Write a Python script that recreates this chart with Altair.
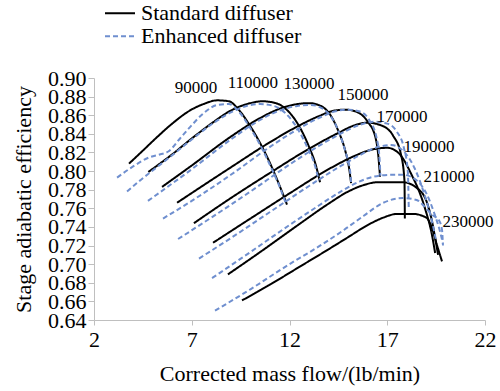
import altair as alt
import pandas as pd

# ---- data (mass flow lb/min, stage adiabatic efficiency) ----
SPEEDS = [90000, 110000, 130000, 150000, 170000, 190000, 210000, 230000]

std_90000 = [(3.79,0.808),(4.5,0.822),(5.2,0.836),(6.0,0.851),(6.9,0.865),(7.6,0.872),(8.3,0.876),(8.9,0.875),(9.4,0.866),(10.0,0.848),(10.6,0.826),(11.1,0.804),(11.5,0.784),(11.87,0.764)]
enh_90000 = [(3.18,0.793),(4.0,0.805),(4.86,0.815),(5.4,0.818),(5.8,0.821),(6.4,0.835),(6.9,0.847),(7.6,0.862),(8.3,0.871),(8.9,0.872),(9.4,0.864),(10.0,0.846),(10.6,0.824),(11.1,0.802),(11.5,0.783),(11.8,0.766)]

std_110000 = [(4.78,0.799),(6.0,0.818),(7.0,0.835),(8.0,0.851),(9.0,0.865),(10.0,0.873),(10.6,0.875),(11.3,0.873),(11.9,0.865),(12.5,0.848),(13.0,0.826),(13.35,0.806),(13.56,0.788)]
enh_110000 = [(3.69,0.778),(4.3,0.789),(4.9,0.799),(6.0,0.817),(7.0,0.834),(8.0,0.850),(9.0,0.863),(9.8,0.870),(10.5,0.872),(11.2,0.870),(11.8,0.862),(12.4,0.846),(12.9,0.826),(13.3,0.806),(13.5,0.790)]

std_130000 = [(5.48,0.783),(7.0,0.806),(9.0,0.837),(10.5,0.857),(11.5,0.867),(12.4,0.872),(13.0,0.873),(13.6,0.870),(14.1,0.860),(14.5,0.843),(14.85,0.822),(15.05,0.803),(15.15,0.787)]
enh_130000 = [(4.76,0.768),(7.0,0.802),(9.0,0.834),(10.5,0.855),(11.5,0.865),(12.4,0.870),(13.1,0.871),(13.7,0.867),(14.2,0.856),(14.6,0.838),(14.9,0.818),(15.1,0.800),(15.15,0.788)]

std_150000 = [(6.25,0.766),(9.0,0.804),(11.0,0.831),(12.5,0.849),(13.5,0.859),(14.3,0.865),(14.9,0.866),(15.5,0.863),(16.0,0.853),(16.4,0.836),(16.55,0.815),(16.63,0.794)]
enh_150000 = [(5.53,0.749),(7.0,0.768),(9.0,0.796),(11.0,0.826),(12.5,0.846),(13.5,0.857),(14.3,0.864),(15.0,0.866),(15.6,0.864),(16.1,0.854),(16.45,0.836),(16.6,0.815),(16.65,0.795)]

std_170000 = [(7.11,0.744),(9.0,0.771),(11.0,0.798),(13.0,0.824),(14.5,0.841),(15.3,0.849),(16.0,0.852),(16.7,0.849),(17.3,0.838),(17.7,0.818),(17.88,0.790),(17.9,0.749)]
enh_170000 = [(6.30,0.727),(8.0,0.750),(10.0,0.778),(12.0,0.807),(13.5,0.827),(14.6,0.840),(15.5,0.849),(16.3,0.853),(17.0,0.851),(17.5,0.842),(17.85,0.825),(18.05,0.800),(18.1,0.760)]

std_190000 = [(8.09,0.723),(10.0,0.749),(12.0,0.776),(14.0,0.802),(15.3,0.816),(16.2,0.823),(17.0,0.825),(17.6,0.819),(18.2,0.798),(18.9,0.762),(19.3,0.730),(19.45,0.712)]
enh_190000 = [(7.37,0.706),(9.0,0.728),(11.0,0.756),(13.0,0.784),(14.5,0.804),(15.5,0.816),(16.4,0.825),(17.2,0.828),(17.8,0.822),(18.4,0.803),(18.9,0.775),(19.3,0.745),(19.5,0.725)]

std_210000 = [(8.85,0.689),(10.5,0.713),(12.5,0.743),(14.0,0.765),(15.0,0.778),(15.8,0.785),(16.5,0.788),(17.8,0.788),(18.5,0.782),(19.0,0.768),(19.3,0.745),(19.5,0.722),(19.6,0.710)]
enh_210000 = [(8.04,0.685),(10.0,0.713),(12.0,0.742),(13.5,0.763),(14.7,0.779),(15.6,0.789),(16.3,0.794),(17.2,0.796),(17.8,0.796),(18.5,0.790),(19.0,0.776),(19.4,0.755),(19.7,0.735),(19.85,0.722)]

std_230000 = [(9.57,0.661),(11.0,0.678),(12.5,0.697),(14.0,0.716),(15.0,0.729),(16.0,0.742),(16.8,0.750),(17.5,0.754),(18.3,0.754),(19.0,0.750),(19.3,0.738),(19.55,0.720),(19.8,0.703)]
enh_230000 = [(8.19,0.650),(10.0,0.673),(12.0,0.700),(13.5,0.719),(14.8,0.737),(15.8,0.752),(16.8,0.766),(17.8,0.771),(18.5,0.769),(18.9,0.762),(19.3,0.753),(19.65,0.747),(19.8,0.737),(19.85,0.720)]

LABEL_TEXT = ["90000", "110000", "130000", "150000", "170000", "190000", "210000", "230000"]
LABEL_X = [7.22, 10.13, 13.0, 15.76, 17.75, 19.14, 20.16, 21.13]
LABEL_Y = [0.889, 0.895, 0.894, 0.882, 0.858, 0.826, 0.794, 0.745]

X_TICKS = [2, 7, 12, 17, 22]
Y_TICKS = [0.64, 0.66, 0.68, 0.70, 0.72, 0.74, 0.76, 0.78, 0.80, 0.82, 0.84, 0.86, 0.88, 0.90]

STD_NAME = "Standard diffuser"
ENH_NAME = "Enhanced diffuser"

std_curves = [std_90000, std_110000, std_130000, std_150000, std_170000, std_190000, std_210000, std_230000]
enh_curves = [enh_90000, enh_110000, enh_130000, enh_150000, enh_170000, enh_190000, enh_210000, enh_230000]

rows = []
for name, curves in ((STD_NAME, std_curves), (ENH_NAME, enh_curves)):
    for speed, pts in zip(SPEEDS, curves):
        for i, (x, y) in enumerate(pts):
            rows.append({"flow": x, "eff": y, "speed": speed, "diffuser": name, "i": i})
df = pd.DataFrame(rows)
labels = pd.DataFrame({"flow": LABEL_X, "eff": LABEL_Y, "text": LABEL_TEXT})

FONT = "Times New Roman, Liberation Serif, serif"

xaxis = alt.Axis(values=X_TICKS, title="Corrected mass flow/(lb/min)", grid=False,
                 labelFlush=False, labelOverlap=False, tickSize=5, labelPadding=4,
                 titlePadding=13, labelFont=FONT, titleFont=FONT, labelFontSize=22,
                 titleFontSize=22, titleFontWeight="normal")
yaxis = alt.Axis(values=Y_TICKS, format=".2f", title="Stage adiabatic efficiency",
                 grid=False, labelFlush=False, labelOverlap=False, tickSize=6,
                 labelPadding=2, titlePadding=12, labelFont=FONT, titleFont=FONT,
                 labelFontSize=22, titleFontSize=22, titleFontWeight="normal")
xenc = alt.X("flow:Q", scale=alt.Scale(domain=[2, 22], nice=False, zero=False), axis=xaxis)
yenc = alt.Y("eff:Q", scale=alt.Scale(domain=[0.64, 0.90], nice=False, zero=False), axis=yaxis)

leg = alt.Legend(title=None, orient="none", legendX=10, legendY=-75,
                 symbolType="stroke", symbolSize=900, symbolStrokeWidth=2,
                 labelFont=FONT, labelFontSize=22, labelColor="black",
                 labelOffset=5, rowPadding=0, clipHeight=20.5, padding=0, labelLimit=400)
color = alt.Color("diffuser:N",
                  scale=alt.Scale(domain=[STD_NAME, ENH_NAME], range=["#000000", "#6f8fcf"]),
                  legend=leg)
dash = alt.StrokeDash("diffuser:N",
                      scale=alt.Scale(domain=[STD_NAME, ENH_NAME], range=[[1, 0], [5, 3]]),
                      legend=leg)

base = alt.Chart(df).mark_line(interpolate="monotone", strokeWidth=2).encode(
    x=xenc, y=yenc, color=color, strokeDash=dash, detail="speed:N", order="i:Q")

std_layer = base.transform_filter(alt.datum.diffuser == STD_NAME)
enh_layer = base.transform_filter(alt.datum.diffuser == ENH_NAME)

text_layer = alt.Chart(labels).mark_text(font=FONT, fontSize=17, color="black",
                                         align="center", baseline="middle").encode(
    x=xenc, y=yenc, text="text:N")

chart = alt.layer(std_layer, enh_layer, text_layer).properties(
    width=391, height=242,
    autosize=alt.AutoSizeParams(type="none"),
    padding={"left": 94, "top": 78, "right": 15, "bottom": 71},
).configure_view(stroke=None).configure_axis(
    domainColor="#bfbfbf", tickColor="#bfbfbf", labelColor="black", titleColor="black",
    labelOverlap=False,
).configure_legend(labelFont=FONT)

chart.save("out.html", embed_options={"renderer": "svg", "actions": False})
